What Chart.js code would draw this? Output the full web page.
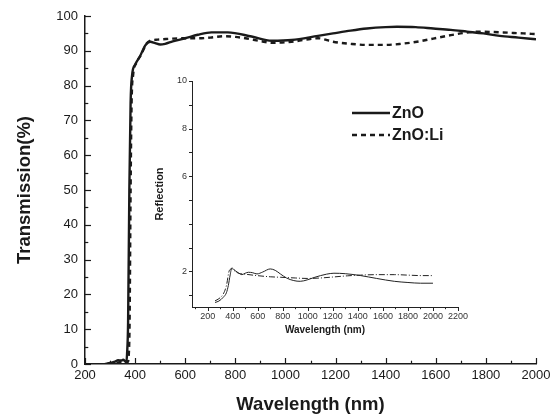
<!DOCTYPE html>
<html>
<head>
<meta charset="utf-8">
<script src="https://cdn.jsdelivr.net/npm/chart.js@4.4.1/dist/chart.umd.min.js"></script>
<style>
  body{margin:0;background:#fff;}
  #wrap{position:relative;width:557px;height:418px;}
  #main{position:absolute;left:0;top:0;}
  #inset{position:absolute;left:140px;top:70px;}
</style>
</head>
<body>
<div id="wrap">
  <canvas id="main" width="557" height="418"></canvas>
  <canvas id="inset" width="340" height="275"></canvas>
</div>
<script>
(function(){
    'use strict'

    // main plot: transmission
    var xTicks = [200,400,600,800,1000,1200,1400,1600,1800,2000];
    var yTicks = [0,10,20,30,40,50,60,70,80,90,100];
    var znoWl = [280,300,320,332,345,352,360,365,368,372,377,382,388,400,420,440,460,480,500,520,550,600,650,705,770,865,945,1025,1130,1190,1260,1325,1400,1445,1520,1590,1660,1725,1790,1855,1930,2000];
    var znoT  = [0,0.3,0.7,1.1,1.0,1.2,0.8,0.4,3,12,50,75,83,86,88.5,91.5,92.6,92.2,91.8,92.0,92.7,93.6,94.6,95.3,95.3,94.1,92.9,93.1,94.3,95.0,95.8,96.4,96.8,96.9,96.8,96.4,96.0,95.5,95.0,94.3,93.8,93.3];
    var liWl  = [290,320,345,360,370,375,378,382,386,392,405,425,445,465,490,510,550,600,665,700,760,800,840,900,945,1025,1080,1130,1190,1260,1325,1400,1460,1525,1590,1660,1720,1780,1830,1890,1950,2000];
    var liT   = [0,0.3,0.6,0.8,0.6,3,12,50,75,83,86.5,89,92,93,93.2,93.3,93.5,93.6,93.6,93.8,94.2,94.0,93.6,92.8,92.3,92.6,93.2,93.6,92.6,92.0,91.7,91.7,92.0,92.6,93.5,94.5,95.2,95.5,95.4,95.2,95.0,94.8];

    // inset: reflection
    var insetXTicks = [200,400,600,800,1000,1200,1400,1600,1800,2000,2200];
    var insetYTicks = [2,6,8,10];
    var rZnoWl = [259,290,325,350,365,380,393,419,450,473,500,526,560,594,640,700,740,781,830,888,940,995,1050,1102,1150,1209,1300,1423,1550,1691,1800,1900,2000];
    var rZno   = [0.69,0.75,0.91,1.1,1.4,1.85,2.14,2.03,1.92,1.86,1.92,1.96,1.94,1.89,1.97,2.10,2.04,1.89,1.72,1.61,1.58,1.64,1.74,1.82,1.88,1.92,1.90,1.82,1.70,1.58,1.53,1.50,1.50];
    var rLiWl  = [259,290,325,350,373,393,420,446,500,594,700,781,900,995,1102,1200,1316,1420,1557,1691,1800,1905,2000];
    var rLi    = [0.76,0.85,1.05,1.4,2.03,2.10,2.0,1.92,1.88,1.82,1.77,1.75,1.72,1.70,1.72,1.76,1.81,1.84,1.86,1.86,1.84,1.82,1.82];

    var seriesNames = ['ZnO','ZnO:Li'];
    var ink = '#1a1a1a';
    var sans = '"Liberation Sans", Arial, sans-serif';

    function pts(xs, ys){
        return xs.map(function(x, i){ return {x: x, y: ys[i]}; });
    }
    function setTicks(list){
        return function(scale){ scale.ticks = list.map(function(v){ return {value: v}; }); };
    }
    function plain(v){ return String(v); }

    // tick marks drawn along the axes, majors + minors
    var tickMarks = {
        id: 'tickMarks',
        afterDraw: function(chart, args, opts){
            var ctx = chart.ctx;
            ctx.save();
            ctx.strokeStyle = opts.color;
            ctx.lineWidth = opts.width;
            opts.axes.forEach(function(a){
                var s = chart.scales[a.id];
                for (var v = a.from; v <= a.to + 1e-9; v += a.minor){
                    var major = Math.abs(v / a.major - Math.round(v / a.major)) < 1e-6;
                    var len = (major ? a.len : a.len * 0.55) * a.dir;
                    var p = Math.round(s.getPixelForValue(v)) + 0.5;
                    ctx.beginPath();
                    if (s.isHorizontal()){
                        ctx.moveTo(p, s.top); ctx.lineTo(p, s.top - len);
                    } else {
                        ctx.moveTo(s.right, p); ctx.lineTo(s.right + len, p);
                    }
                    ctx.stroke();
                }
            });
            ctx.restore();
        }
    };

    // legend in the upper middle of the plot
    var lineLegend = {
        id: 'lineLegend',
        afterDraw: function(chart, args, opts){
            var ctx = chart.ctx;
            ctx.save();
            ctx.font = opts.font;
            ctx.fillStyle = ink;
            ctx.textBaseline = 'middle';
            chart.data.datasets.forEach(function(ds, i){
                var y = opts.y + i * opts.gap;
                ctx.beginPath();
                ctx.strokeStyle = ds.borderColor;
                ctx.lineWidth = ds.borderWidth;
                ctx.setLineDash(ds.borderDash || []);
                ctx.moveTo(opts.x, y);
                ctx.lineTo(opts.x + opts.len, y);
                ctx.stroke();
                ctx.fillText(ds.label, opts.x + opts.len + 2, y + 1);
            });
            ctx.restore();
        }
    };

    new Chart(document.getElementById('main'), {
        type: 'line',
        data: {
            datasets: [{
                label: seriesNames[0],
                data: pts(znoWl, znoT),
                borderColor: ink,
                borderWidth: 2.4,
                pointRadius: 0,
                cubicInterpolationMode: 'monotone'
            },{
                label: seriesNames[1],
                data: pts(liWl, liT),
                borderColor: ink,
                borderWidth: 2.4,
                borderDash: [5,4],
                pointRadius: 0,
                cubicInterpolationMode: 'monotone'
            }]
        },
        options: {
            responsive: false,
            animation: false,
            devicePixelRatio: 1,
            layout: {padding: {left: 0, right: 21, top: 16, bottom: 0}},
            plugins: {
                legend: {display: false},
                tooltip: {enabled: false},
                tickMarks: {
                    color: ink, width: 1.2,
                    axes: [
                        {id: 'x', from: 200, to: 2000, minor: 100, major: 200, len: 6, dir: 1},
                        {id: 'y', from: 0, to: 100, minor: 5, major: 10, len: 6, dir: 1}
                    ]
                },
                lineLegend: {x: 352, y: 113, gap: 22, len: 38, font: 'bold 16px ' + sans}
            },
            scales: {
                x: {
                    type: 'linear', min: 200, max: 2000,
                    afterBuildTicks: setTicks(xTicks),
                    afterFit: function(s){ s.height = 54; },
                    grid: {display: false, drawTicks: false},
                    border: {display: true, color: ink, width: 1.5},
                    ticks: {color: ink, padding: 4, maxRotation: 0, callback: plain, font: {family: sans, size: 13}},
                    title: {display: true, text: 'Wavelength (nm)', color: ink, padding: {top: 0, bottom: 2},
                            font: {family: sans, size: 18.5, weight: 'bold'}}
                },
                y: {
                    min: 0, max: 100,
                    afterBuildTicks: setTicks(yTicks),
                    afterFit: function(s){ s.width = 85; },
                    grid: {display: false, drawTicks: false},
                    border: {display: true, color: ink, width: 1.5},
                    ticks: {color: ink, padding: 7, callback: plain, font: {family: sans, size: 13}},
                    title: {display: true, text: 'Transmission(%)', color: ink, padding: {top: 14, bottom: 0},
                            font: {family: sans, size: 18.5, weight: 'bold'}}
                }
            }
        },
        plugins: [tickMarks, lineLegend]
    });

    new Chart(document.getElementById('inset'), {
        type: 'line',
        data: {
            datasets: [{
                label: seriesNames[0],
                data: pts(rZnoWl, rZno),
                borderColor: '#222',
                borderWidth: 1,
                pointRadius: 0,
                cubicInterpolationMode: 'monotone'
            },{
                label: seriesNames[1],
                data: pts(rLiWl, rLi),
                borderColor: '#222',
                borderWidth: 1,
                borderDash: [6,2,1,2],
                pointRadius: 0,
                cubicInterpolationMode: 'monotone'
            }]
        },
        options: {
            responsive: false,
            animation: false,
            devicePixelRatio: 1,
            layout: {padding: {left: 0, right: 22, top: 11, bottom: 0}},
            plugins: {
                legend: {display: false},
                tooltip: {enabled: false},
                tickMarks: {
                    color: '#222', width: 1,
                    axes: [
                        {id: 'x', from: 100, to: 2200, minor: 100, major: 200, len: -4, dir: 1},
                        {id: 'y', from: 1, to: 10, minor: 1, major: 1, len: -3, dir: 1}
                    ]
                }
            },
            scales: {
                x: {
                    type: 'linear', min: 75, max: 2200,
                    afterBuildTicks: setTicks(insetXTicks),
                    afterFit: function(s){ s.height = 38; },
                    grid: {display: false, drawTicks: false},
                    border: {display: true, color: '#222', width: 1},
                    ticks: {color: '#333', padding: 4, maxRotation: 0, autoSkip: false, callback: plain, font: {family: sans, size: 9}},
                    title: {display: true, text: 'Wavelength (nm)', color: ink, padding: {top: 0, bottom: 9},
                            font: {family: sans, size: 10, weight: 'bold'}}
                },
                y: {
                    min: 0.5, max: 10,
                    afterBuildTicks: setTicks(insetYTicks),
                    afterFit: function(s){ s.width = 52; },
                    grid: {display: false, drawTicks: false},
                    border: {display: true, color: '#222', width: 1},
                    ticks: {color: '#333', padding: 5, callback: plain, font: {family: sans, size: 9}},
                    title: {display: true, text: 'Reflection', color: ink, padding: {top: 13, bottom: 0},
                            font: {family: sans, size: 11, weight: 'bold'}}
                }
            }
        },
        plugins: [tickMarks]
    });
})();
</script>
</body>
</html>
